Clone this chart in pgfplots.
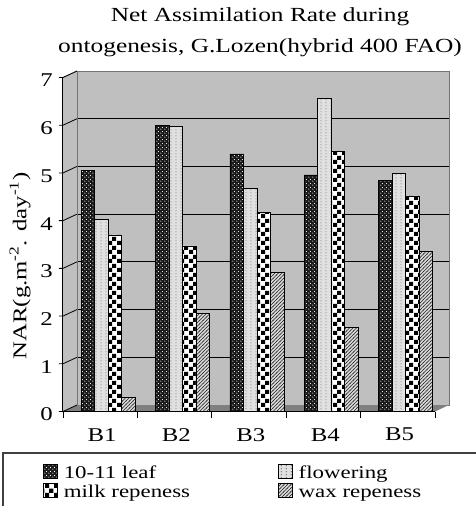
\documentclass[border=0pt]{standalone}
\usepackage{pgfplots}
\pgfplotsset{compat=1.18}
\usepackage{fontspec}
\setmainfont{Liberation Serif}[FakeStretch=1.27]
\usetikzlibrary{patterns}

% fill patterns of the four stages
\pgfdeclarepatternformonly{leafdots}{\pgfqpoint{0pt}{0pt}}{\pgfqpoint{4pt}{4pt}}{\pgfqpoint{4pt}{4pt}}{%
  \pgfpathcircle{\pgfqpoint{1pt}{1pt}}{0.65pt}%
  \pgfpathcircle{\pgfqpoint{3pt}{3pt}}{0.65pt}%
  \pgfusepath{fill}}
\pgfdeclarepatternformonly{flowerdots}{\pgfqpoint{0pt}{0pt}}{\pgfqpoint{4.5pt}{3pt}}{\pgfqpoint{4.5pt}{3pt}}{%
  \pgfpathrectangle{\pgfqpoint{1.9pt}{1.1pt}}{\pgfqpoint{0.8pt}{0.8pt}}%
  \pgfusepath{fill}}
\pgfdeclarepatternformonly{milkchecks}{\pgfqpoint{0pt}{0pt}}{\pgfqpoint{9pt}{9pt}}{\pgfqpoint{9pt}{9pt}}{%
  \pgfpathrectangle{\pgfqpoint{0pt}{0pt}}{\pgfqpoint{4.5pt}{4.5pt}}%
  \pgfpathrectangle{\pgfqpoint{4.5pt}{4.5pt}}{\pgfqpoint{4.5pt}{4.5pt}}%
  \pgfusepath{fill}}
\pgfdeclarepatternformonly{waxlines}{\pgfqpoint{-0.5pt}{-0.5pt}}{\pgfqpoint{4pt}{4pt}}{\pgfqpoint{3.5pt}{3.5pt}}{%
  \pgfsetlinewidth{0.55pt}%
  \pgfpathmoveto{\pgfqpoint{-0.5pt}{-0.5pt}}%
  \pgfpathlineto{\pgfqpoint{4pt}{4pt}}%
  \pgfusepath{stroke}}

\newcommand{\chartsize}{\fontsize{19.5}{23}\selectfont}

\begin{document}
\begin{tikzpicture}[x=1pt,y=1pt]
\useasboundingbox (0,-506) rectangle (475,0);
\begin{axis}[
  at={(77pt,-405pt)}, anchor=south west,
  scale only axis, width=372pt, height=334pt,
  xmin=-0.417, xmax=4.583, ymin=0, ymax=7,
  clip=false,
  ybar=0pt, bar width=13.5pt,
  axis background/.style={fill=black!25},
  axis line style={draw=black!55, line width=0.6pt},
  major tick length=0pt,
  ytick={1,...,6},
  extra y ticks={0,7},
  extra y tick style={grid=none},
  ymajorgrids, grid style={black, line width=0.9pt},
  xtick={0,...,4}, xticklabels={B1,B2,B3,B4,B5},
  /pgf/number format/assume math mode=true,
  tick label style={font=\chartsize},
  yticklabel style={anchor=east, inner sep=0pt, xshift=-24pt, yshift=-9.5pt},
  xticklabel style={anchor=north, inner sep=0pt, xshift=-6pt, yshift=-23pt},
  title={Net Assimilation Rate during\\ontogenesis, G.Lozen(hybrid 400 FAO)},
  title style={at={(axis description cs:0.492,1.171)}, anchor=north, align=center,
    inner sep=0pt, font=\fontsize{20}{31}\selectfont},
  ylabel={NAR(g.m\textsuperscript{-2}. day\textsuperscript{-1})},
  ylabel style={at={(axis description cs:-0.153,0.416)}, anchor=center, font=\chartsize},
  legend columns=2,
  legend cell align=left,
  legend style={at={(axis description cs:-0.0914,-0.1766)}, anchor=north west,
    draw=none, fill=none, inner sep=0pt, font=\fontsize{18}{21}\selectfont,
    nodes={inner sep=0pt, text height=14pt, text depth=5pt},
    row sep=0pt,
    /tikz/every odd column/.append style={column sep=6pt},
    /tikz/every even column/.append style={column sep=88pt}},
  legend image code/.code={\draw[#1, yshift=6.5pt, draw=black, line width=0.6pt] (0pt,-5pt) rectangle (14pt,9pt);},
  every axis plot/.append style={yshift=-6.5pt, draw=black, line width=0.6pt},
]
% side wall, floor and the front axis of the box
\fill[black!25] ([shift={(-14pt,-6.5pt)}]axis cs:-0.417,0) -- ([shift={(-14pt,-6.5pt)}]axis cs:-0.417,7)
  -- (axis cs:-0.417,7) -- (axis cs:-0.417,0) -- cycle;
\draw[black!55, line width=0.6pt] ([shift={(-14pt,-6.5pt)}]axis cs:-0.417,7) -- (axis cs:-0.417,7);
\fill[black!50] ([shift={(-14pt,-6.5pt)}]axis cs:-0.417,0) -- (axis cs:-0.417,0)
  -- (axis cs:4.583,0) -- ([shift={(-14pt,-6.5pt)}]axis cs:4.583,0) -- cycle;
\pgfplotsinvokeforeach{0,...,7}{
  \draw[black, line width=0.8pt] ([shift={(-18pt,-6.5pt)}]axis cs:-0.417,#1)
    -- ([shift={(-14pt,-6.5pt)}]axis cs:-0.417,#1) -- (axis cs:-0.417,#1);
}
\pgfplotsinvokeforeach{-0.417,0.583,1.583,2.583,3.583,4.583}{
  \draw[black, line width=0.8pt] ([shift={(-14pt,-6.5pt)}]axis cs:#1,0) -- ([shift={(-14pt,-12.5pt)}]axis cs:#1,0);
}
\draw[black, line width=1pt] ([shift={(-14pt,-6.5pt)}]axis cs:-0.417,7)
  -- ([shift={(-14pt,-6.5pt)}]axis cs:-0.417,0) -- ([shift={(-14pt,-6.5pt)}]axis cs:4.583,0);

\addplot[fill=black!90, postaction={pattern=leafdots, pattern color=white}]
  coordinates {(0,5.05) (1,6.00) (2,5.40) (3,4.96) (4,4.85)};
\addplot[fill=black!12, postaction={pattern=flowerdots, pattern color=black}]
  coordinates {(0,4.02) (1,5.97) (2,4.67) (3,6.56) (4,4.99)};
\addplot[fill=white, postaction={pattern=milkchecks, pattern color=black}]
  coordinates {(0,3.70) (1,3.47) (2,4.18) (3,5.46) (4,4.52)};
\addplot[fill=black!15, postaction={pattern=waxlines, pattern color=black!85}]
  coordinates {(0,0.30) (1,2.05) (2,2.92) (3,1.76) (4,3.36)};
\legend{10-11 leaf, flowering, milk repeness, wax repeness}
\end{axis}
% frame of the legend
\draw[black!75, line width=1.5pt] (3,-453) rectangle (495,-525);
\end{tikzpicture}
\end{document}
